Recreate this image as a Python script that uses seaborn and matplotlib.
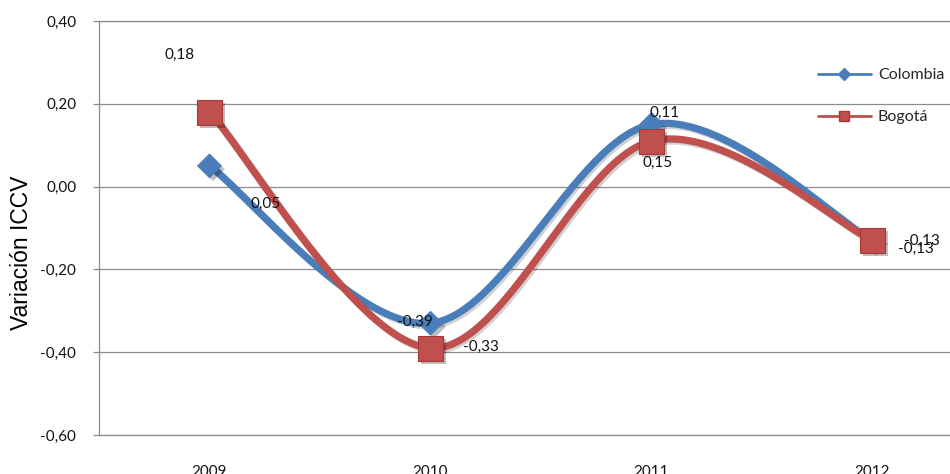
import numpy as np
import pandas as pd
import matplotlib
matplotlib.use("Agg")
import matplotlib.pyplot as plt
import matplotlib.patheffects as pe
from matplotlib.lines import Line2D
import seaborn as sns

# ---- data ----
years = ["2009", "2010", "2011", "2012"]
colombia = [0.05, -0.33, 0.15, -0.13]
bogota = [0.18, -0.39, 0.11, -0.13]
y_ticks = [-0.60, -0.40, -0.20, 0.00, 0.20, 0.40]

BLUE = "#4a7ebb"
RED = "#c0504d"
RED_DARK = "#a83a36"
GRID = "#8c8c8c"

sns.set_theme(style="white")
plt.rcParams["font.family"] = ["Lato", "DejaVu Sans"]


def smooth_curve(xs, ys, n=60):
    """Bezier smoothing through the points (control points from neighbours)."""
    P = np.column_stack([xs, ys]).astype(float)
    m = len(P)
    out = []
    for i in range(m - 1):
        p0 = P[i - 1] if i > 0 else P[i]
        p1, p2 = P[i], P[i + 1]
        p3 = P[i + 2] if i + 2 < m else P[i + 1]
        c1 = p1 + (p2 - p0) / 6.0
        c2 = p2 - (p3 - p1) / 6.0
        t = np.linspace(0, 1, n)[:, None]
        seg = ((1 - t) ** 3) * p1 + 3 * ((1 - t) ** 2) * t * c1 + 3 * (1 - t) * t ** 2 * c2 + t ** 3 * p2
        out.append(seg if i == 0 else seg[1:])
    return np.vstack(out)


def fmt(v):
    return f"{v:.2f}".replace(".", ",")


fig = plt.figure(figsize=(9.5, 4.74), dpi=100)
ax = fig.add_axes([99 / 950, 39 / 474, 884 / 950, 414 / 474])

xpos = np.arange(len(years))
series = [
    ("Colombia", colombia, BLUE, "D", 12, BLUE),
    ("Bogotá", bogota, RED, "s", 18, RED_DARK),
]

line_fx = [pe.SimpleLineShadow(offset=(1.5, -1.5), alpha=0.18, shadow_color="black"), pe.Normal()]
mark_fx = [pe.SimplePatchShadow(offset=(2.5, -2.5), alpha=0.25, shadow_rgbFace="black"), pe.Normal()]

for name, vals, col, mk, ms, edge in series:
    curve = smooth_curve(xpos, vals)
    df = pd.DataFrame({"x": curve[:, 0], "y": curve[:, 1]})
    sns.lineplot(data=df, x="x", y="y", sort=False, color=col, linewidth=5.2,
                 ax=ax, path_effects=line_fx, solid_capstyle="round")
    pts = pd.DataFrame({"x": xpos, "y": vals})
    sns.scatterplot(data=pts, x="x", y="y", marker=mk, s=ms ** 2, color=col,
                    edgecolor=edge, linewidth=0.8, ax=ax, zorder=4, path_effects=mark_fx)

# value labels
label_offsets = {
    "Colombia": [(56, -38), (50, -24), (6, -38), (43, -8)],
    "Bogotá": [(-30, 57), (-16, 26), (13, 28), (49, 0)],
}
for name, vals, *_ in series:
    for i, v in enumerate(vals):
        dx, dy = label_offsets[name][i]
        ax.annotate(fmt(v), (xpos[i], v), xytext=(dx, dy), textcoords="offset pixels",
                    ha="center", va="center", fontsize=11, color="#111111", zorder=5)

ax.set_xlim(-0.5, 3.5)
ax.set_ylim(-0.60, 0.40)
ax.set_xticks(xpos)
ax.set_xticklabels(years)
ax.set_yticks(y_ticks)
ax.set_yticklabels([fmt(v) for v in y_ticks])
ax.set_xlabel("")
ax.set_ylabel("Variación ICCV", fontsize=16.5, family=["Liberation Sans", "DejaVu Sans"],
              color="black")
ax.yaxis.set_label_coords(-0.0747, 0.44)

ax.grid(axis="y", color=GRID, linewidth=0.9)
ax.grid(axis="x", visible=False)
ax.set_axisbelow(True)
for side in ["top", "bottom", "left"]:
    ax.spines[side].set_visible(True)
    ax.spines[side].set_color(GRID)
    ax.spines[side].set_linewidth(0.9)
ax.spines["right"].set_visible(False)

ax.tick_params(axis="y", length=4.3, width=0.9, color=GRID, direction="out",
               pad=12, labelsize=11, labelcolor="#111111", left=True)
ax.tick_params(axis="x", length=0, pad=21.8, labelsize=11, labelcolor="#111111")

handles = [
    Line2D([], [], color=BLUE, lw=2, marker="D", markersize=6.5, markeredgecolor=BLUE),
    Line2D([], [], color=RED, lw=2, marker="s", markersize=7.5, markeredgecolor=RED_DARK),
]
fig.legend(handles, ["Colombia", "Bogotá"], loc="upper left",
           bbox_to_anchor=(818 / 950, 1 - 68 / 474), frameon=False, fontsize=11.5,
           handlelength=3.3, handletextpad=0.45, labelspacing=1.75,
           borderpad=0, borderaxespad=0)

fig.savefig("out.png", dpi=100)
